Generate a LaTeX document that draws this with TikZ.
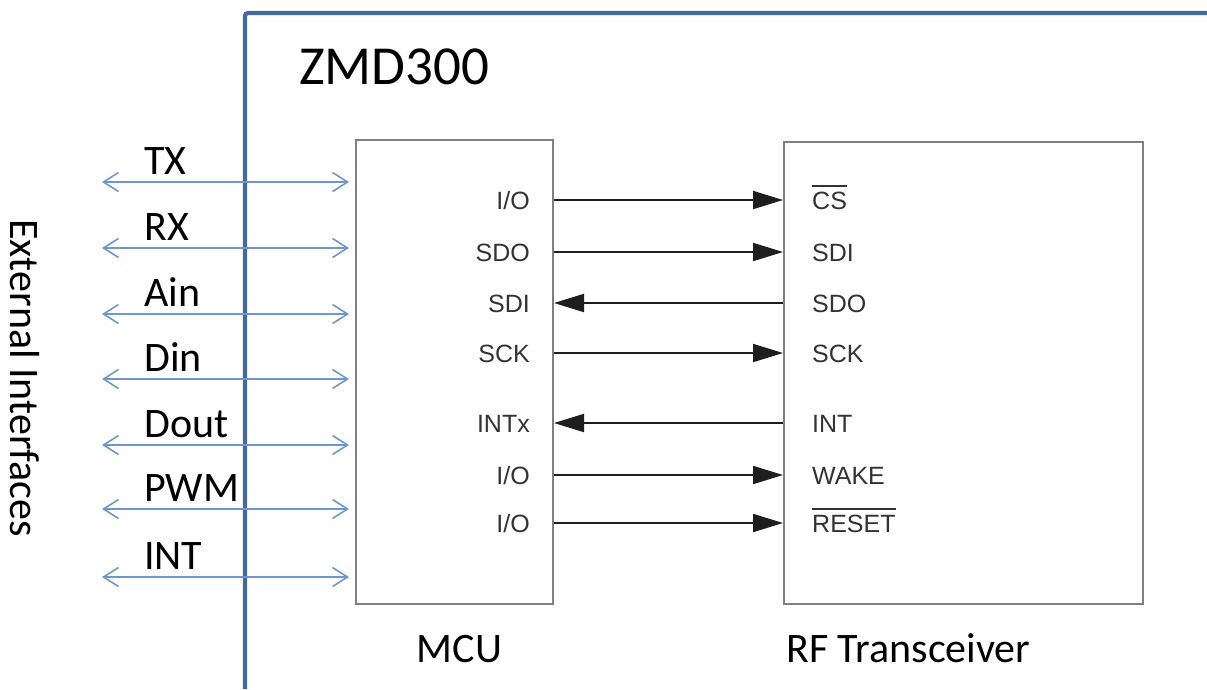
\documentclass[tikz,border=0pt]{standalone}
\usepackage{fontspec}
\setmainfont{Carlito}
\newfontfamily\pinfont{Liberation Sans}
\usetikzlibrary{arrows.meta}
\definecolor{framecol}{HTML}{44699C}
\definecolor{extcol}{HTML}{6F97CC}
\definecolor{boxcol}{HTML}{808080}
\definecolor{sigcol}{HTML}{1E1E1E}
\definecolor{pincol}{HTML}{333333}
\newcommand{\ovbar}[1]{\setbox0\hbox{#1}\rlap{\raisebox{\dimexpr\ht0+5pt\relax}{\rule{\wd0}{1.6pt}}}\box0}
\tikzset{
  chipbox/.style={draw=boxcol, line width=2pt, inner sep=0pt},
  bigtext/.style={font=\fontsize{42}{50}\selectfont, text=black, inner sep=0pt},
  pinlabel/.style={font=\pinfont\fontsize{25}{30}\selectfont, text=pincol, inner sep=0pt},
  sigarrow/.style={draw=sigcol, line width=2pt, -{Triangle[length=30pt,width=18pt]}},
  extarrow/.style={draw=extcol, line width=1.6pt, {Straight Barb[length=15pt,width=19pt]}-{Straight Barb[length=15pt,width=19pt]}},
  framebar/.style={draw=framecol, line width=4.2pt, rounded corners=3pt}
}
\begin{document}
\begin{tikzpicture}[x=1pt,y=-1pt]
\useasboundingbox (0,0) rectangle (1207,689);
% frame
\draw[framebar] (245,689) -- (245,13) -- (1209,13);
\node[anchor=base west, inner sep=0pt, font=\fontsize{55}{62}\selectfont] (title) at (299,84) {ZMD300};
% boxes
\node[chipbox, minimum width=197pt, minimum height=464pt] (mcu) at (454.5,372) {};
\node[chipbox, minimum width=359pt, minimum height=462pt] (rf) at (963.5,373) {};
\node[bigtext, anchor=base] (mculbl) at (459.5,662) {MCU};
\node[bigtext, anchor=base west] (rflbl) at (786,662) {RF Transceiver};
% side label
\node[bigtext, rotate=-90] (extlbl) at (25,378) {External Interfaces};
% rows
\coordinate (r1) at (0,200);
\coordinate (r2) at (0,252);
\coordinate (r3) at (0,303);
\coordinate (r4) at (0,353);
\coordinate (r5) at (0,423);
\coordinate (r6) at (0,475);
\coordinate (r7) at (0,523);
% MCU pin labels
\node[pinlabel, anchor=base east] (m1) at (530,209) {I/O};
\node[pinlabel, anchor=base east] (m2) at (530,261) {SDO};
\node[pinlabel, anchor=base east] (m3) at (530,312) {SDI};
\node[pinlabel, anchor=base east] (m4) at (530,362) {SCK};
\node[pinlabel, anchor=base east] (m5) at (530,432) {INTx};
\node[pinlabel, anchor=base east] (m6) at (530,484) {I/O};
\node[pinlabel, anchor=base east] (m7) at (530,532) {I/O};
% RF pin labels
\node[pinlabel, anchor=base west] (f1) at (812,209) {\ovbar{CS}};
\node[pinlabel, anchor=base west] (f2) at (812,261) {SDI};
\node[pinlabel, anchor=base west] (f3) at (812,312) {SDO};
\node[pinlabel, anchor=base west] (f4) at (812,362) {SCK};
\node[pinlabel, anchor=base west] (f5) at (812,432) {INT};
\node[pinlabel, anchor=base west] (f6) at (812,484) {WAKE};
\node[pinlabel, anchor=base west] (f7) at (812,532) {\ovbar{RESET}};
% signal arrows
\draw[sigarrow] (mcu.east |- r1) -- (rf.west |- r1);
\draw[sigarrow] (mcu.east |- r2) -- (rf.west |- r2);
\draw[sigarrow] (rf.west |- r3) -- (mcu.east |- r3);
\draw[sigarrow] (mcu.east |- r4) -- (rf.west |- r4);
\draw[sigarrow] (rf.west |- r5) -- (mcu.east |- r5);
\draw[sigarrow] (mcu.east |- r6) -- (rf.west |- r6);
\draw[sigarrow] (mcu.east |- r7) -- (rf.west |- r7);
% external interfaces
\foreach \nm/\yy in {TX/182,RX/248,Ain/314,Din/379,Dout/445,PWM/509,INT/577}{
  \coordinate (e\nm) at (102,\yy);
  \node[bigtext, anchor=base west] (l\nm) at (144,\yy-7.5) {\nm};
  \draw[extarrow] (e\nm) -- ([xshift=-6pt]mcu.west |- e\nm);
}
\end{tikzpicture}
\end{document}
